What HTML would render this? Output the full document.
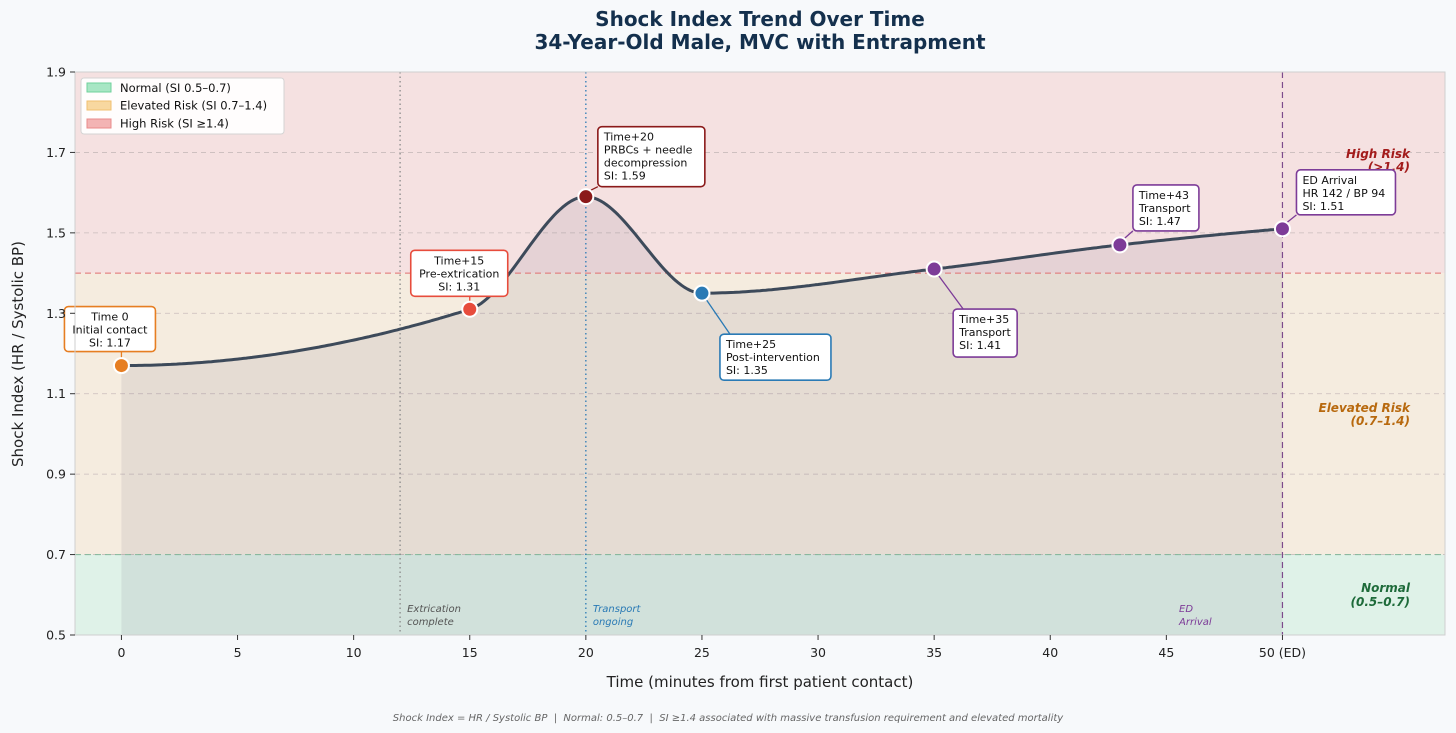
<!DOCTYPE html>
<html><head><meta charset="utf-8"><style>
body{margin:0;background:#f7f9fb;}
svg{display:block;font-family:"DejaVu Sans","Liberation Sans",sans-serif;}
</style></head><body>
<svg id="chart" width="1456" height="733" viewBox="0 0 1456 733">
<rect width="1456" height="733" fill="#f7f9fb"/>
<text x="760" y="26" text-anchor="middle" font-size="20" font-weight="bold" fill="#14304d">Shock Index Trend Over Time</text>
<text x="760" y="49" text-anchor="middle" font-size="20" font-weight="bold" fill="#14304d">34-Year-Old Male, MVC with Entrapment</text>
<g id="plot"></g>
<text x="760" y="687" text-anchor="middle" font-size="15" fill="#222">Time (minutes from first patient contact)</text>
<text transform="translate(23,354) rotate(-90)" text-anchor="middle" font-size="15" fill="#222">Shock Index (HR / Systolic BP)</text>
<text x="728" y="721" text-anchor="middle" font-size="10" font-style="italic" fill="#666" style="white-space:pre" xml:space="preserve">Shock Index = HR / Systolic BP  |  Normal: 0.5–0.7  |  SI ≥1.4 associated with massive transfusion requirement and elevated mortality</text>
</svg>
<script>
const times=[0,15,20,25,35,43,50];
const siValues=[1.17,1.31,1.59,1.35,1.41,1.47,1.51];
const xTicks=[0,5,10,15,20,25,30,35,40,45,50];
const xTickLabels=["0","5","10","15","20","25","30","35","40","45","50 (ED)"];
const yTicks=[0.5,0.7,0.9,1.1,1.3,1.5,1.7,1.9];
const pointColors=["#e67e22","#e74c3c","#8b1a1a","#2a7ab5","#7d3c98","#7d3c98","#7d3c98"];
const annotLines=[["Time 0","Initial contact","SI: 1.17"],["Time+15","Pre-extrication","SI: 1.31"],["Time+20","PRBCs + needle","decompression","SI: 1.59"],["Time+25","Post-intervention","SI: 1.35"],["Time+35","Transport","SI: 1.41"],["Time+43","Transport","SI: 1.47"],["ED Arrival","HR 142 / BP 94","SI: 1.51"]];

const NS="http://www.w3.org/2000/svg";
const L=75,R=1445,T=72,B=635,xMin=-2,xMax=57,yMin=0.5,yMax=1.9;
const X=v=>L+(v-xMin)/(xMax-xMin)*(R-L);
const Y=v=>B-(v-yMin)/(yMax-yMin)*(B-T);
const plot=document.getElementById('plot');
function mk(tag,attrs,parent){const e=document.createElementNS(NS,tag);for(const k in attrs)e.setAttribute(k,attrs[k]);(parent||plot).appendChild(e);return e;}

let z;
z=mk('rect',{x:L,y:Y(1.9),width:R-L,height:Y(1.4)-Y(1.9),fill:'#f5e1e1'});


z=mk('rect',{x:L,y:Y(1.4),width:R-L,height:Y(0.7)-Y(1.4),fill:'#f5ecdf'});


z=mk('rect',{x:L,y:Y(0.7),width:R-L,height:Y(0.5)-Y(0.7),fill:'#dff2e8'});



yTicks.forEach(t=>{const g=mk('line',{x1:L,x2:R,y1:Y(t),y2:Y(t),stroke:'#c9bcbc','stroke-dasharray':'5,4','stroke-width':0.8});

});

function pchip(xs,ys){const n=xs.length,h=[],d=[],m=[];
for(let i=0;i<n-1;i++){h[i]=xs[i+1]-xs[i];d[i]=(ys[i+1]-ys[i])/h[i];}
for(let i=1;i<n-1;i++){if(d[i-1]*d[i]<=0)m[i]=0;else{const w1=2*h[i]+h[i-1],w2=h[i]+2*h[i-1];m[i]=(w1+w2)/(w1/d[i-1]+w2/d[i]);}}
function ep(h0,h1,d0,d1){let v=((2*h0+h1)*d0-h0*d1)/(h0+h1);if(Math.sign(v)!=Math.sign(d0))v=0;else if(Math.sign(d0)!=Math.sign(d1)&&Math.abs(v)>3*Math.abs(d0))v=3*d0;return v;}
m[0]=ep(h[0],h[1],d[0],d[1]);m[n-1]=ep(h[n-2],h[n-3],d[n-2],d[n-3]);
return x=>{let i=0;while(i<n-2&&x>xs[i+1])i++;const t=(x-xs[i])/h[i],t2=t*t,t3=t2*t;
return (2*t3-3*t2+1)*ys[i]+(t3-2*t2+t)*h[i]*m[i]+(-2*t3+3*t2)*ys[i+1]+(t3-t2)*h[i]*m[i+1];};}
const f=pchip(times,siValues);
let pts=[];const t0=times[0],t1=times[times.length-1];
for(let k=0;k<=400;k++){const t=t0+(t1-t0)*k/400;pts.push(X(t).toFixed(1)+','+Y(f(t)).toFixed(1));}
const area=mk('path',{d:'M'+X(t0)+','+B+' L'+pts.join(' L')+' L'+X(t1)+','+B+'Z',fill:'#5b4a6e','fill-opacity':0.1});



let th=mk('line',{x1:L,x2:R,y1:Y(1.4),y2:Y(1.4),stroke:'#e07070','stroke-dasharray':'6,4','stroke-width':1});


th=mk('line',{x1:L,x2:R,y1:Y(0.7),y2:Y(0.7),stroke:'#7fb89a','stroke-dasharray':'6,4','stroke-width':1});



let vl=mk('line',{x1:X(12),x2:X(12),y1:T,y2:B,stroke:'#8a8a8a','stroke-dasharray':'1.5,3','stroke-width':1.3});


vl=mk('line',{x1:X(20),x2:X(20),y1:T,y2:B,stroke:'#2a7ab5','stroke-dasharray':'1.5,3','stroke-width':1.3});


vl=mk('line',{x1:X(50),x2:X(50),y1:T,y2:B,stroke:'#7d4b8c','stroke-dasharray':'6,4','stroke-width':1.2});



function txt(x,y,s,attrs,name){const e=mk('text',Object.assign({x:x,y:y},attrs));e.textContent=s;

return e;}
const it={'font-size':10,'font-style':'italic'};
txt(X(12)+7,612,'Extrication',Object.assign({fill:'#555'},it),'extrication-label');
txt(X(12)+7,625,'complete',Object.assign({fill:'#555'},it),'extrication-label');
txt(X(20)+7,612,'Transport',Object.assign({fill:'#2a7ab5'},it),'transport-label');
txt(X(20)+7,625,'ongoing',Object.assign({fill:'#2a7ab5'},it),'transport-label');
txt(1179,612,'ED',Object.assign({fill:'#7d3c98'},it),'ed-label');
txt(1179,625,'Arrival',Object.assign({fill:'#7d3c98'},it),'ed-label');

const zb={'font-size':12,'font-style':'italic','font-weight':'bold','text-anchor':'end'};
txt(1410,158,'High Risk',Object.assign({fill:'#a31b1b'},zb),'high-risk-zone-label');
txt(1410,171,'(>1.4)',Object.assign({fill:'#a31b1b'},zb),'high-risk-zone-label');
txt(1410,412,'Elevated Risk',Object.assign({fill:'#b8690e'},zb),'elevated-zone-label');
txt(1410,425,'(0.7–1.4)',Object.assign({fill:'#b8690e'},zb),'elevated-zone-label');
txt(1410,592,'Normal',Object.assign({fill:'#1e6b3a'},zb),'normal-zone-label');
txt(1410,606,'(0.5–0.7)',Object.assign({fill:'#1e6b3a'},zb),'normal-zone-label');

const ln=mk('path',{d:'M'+pts.join(' L'),fill:'none',stroke:'#3d4a5a','stroke-width':3,'stroke-linejoin':'round'});



const boxOff=[[-57,-59,91,45,'middle'],[-59,-59,97,46,'middle'],[12,-70,107,60,'start'],[18,41,111,46,'start'],[19,40,64,48,'start'],[13,-60,66,46,'start'],[14,-59,99,45,'start']];
times.forEach((t,i)=>{const px=X(t),py=Y(siValues[i]);const o=boxOff[i];const c=pointColors[i];
const bx=px+o[0],by=py+o[1],bw=o[2],bh=o[3];
const ax=o[4]==='middle'?px:(o[1]<0?bx:bx+10),ay=o[1]<0?by+bh:by;
const ar=mk('line',{x1:ax,y1:ay,x2:px+(ax>px?4:(ax<px?-4:0)),y2:py+(o[1]<0?-6:6),stroke:c,'stroke-width':1.3});


const r=mk('rect',{x:bx,y:by,width:bw,height:bh,rx:4,fill:'#fff',stroke:c,'stroke-width':1.6});


const lines=annotLines[i];const tx=o[4]==='middle'?bx+bw/2:bx+6;
lines.forEach((s,j)=>txt(tx,by+14+j*13,s,{'font-size':11,fill:'#111','text-anchor':o[4]},'annotation-text'));
const p=mk('circle',{cx:px,cy:py,r:7.5,fill:c,stroke:'#fff','stroke-width':2});


});

const fr=mk('rect',{x:L,y:T,width:R-L,height:B-T,fill:'none',stroke:'#cfcfcf','stroke-width':1});


xTicks.forEach((t,i)=>{const tk=mk('line',{x1:X(t),x2:X(t),y1:B,y2:B+5,stroke:'#333'});


txt(X(t),B+22,xTickLabels[i],{'font-size':12.5,fill:'#222','text-anchor':'middle'},'x-tick-label');});
yTicks.forEach(t=>{const tk=mk('line',{x1:L-5,x2:L,y1:Y(t),y2:Y(t),stroke:'#333'});


txt(L-9,Y(t)+4.5,t.toFixed(1),{'font-size':12.5,fill:'#222','text-anchor':'end'},'y-tick-label');});

const lg=mk('rect',{x:81,y:78,width:203,height:56,rx:3,fill:'#fff','fill-opacity':0.92,stroke:'#d4d4d4'});


const legItems=[['Normal (SI 0.5–0.7)','#a8e6c4','#6fd19c'],['Elevated Risk (SI 0.7–1.4)','#f8d8a0','#f0c070'],['High Risk (SI ≥1.4)','#f3b4b4','#e88a8a']];
legItems.forEach((it2,i)=>{const s=mk('rect',{x:87,y:83+i*18,width:24,height:9,fill:it2[1],stroke:it2[2]});


txt(120,92+i*17.7,it2[0],{'font-size':11.5,fill:'#111'},'legend-entry');});
</script>
</body></html>
